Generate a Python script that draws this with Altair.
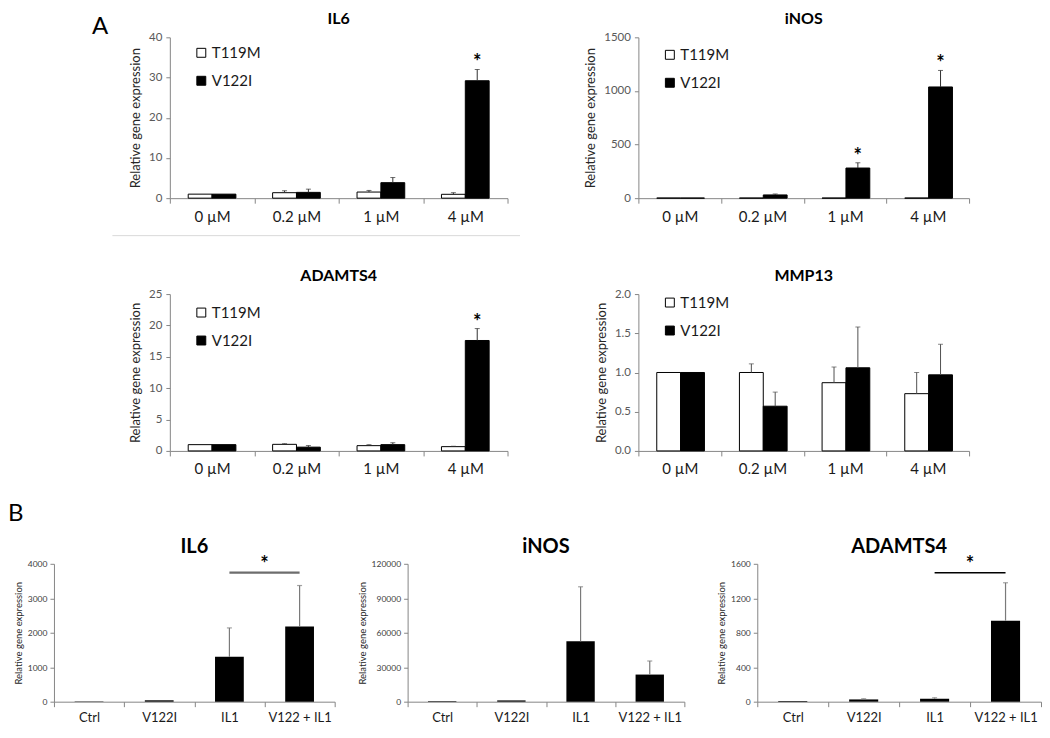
import altair as alt
import pandas as pd

FONT = "Lato"
AXIS = "#868686"
ERR_A = "#303030"
ERR_B = "#7a7a7a"

doses = ["0 µM", "0.2 µM", "1 µM", "4 µM"]
series = ["T119M", "V122I"]
conds = ["Ctrl", "V122I", "IL1", "V122 + IL1"]
panel_labels = ["A", "B"]

# ---------------- Panel A ----------------
il6_t = [1.0, 1.36, 1.52, 0.96]
il6_t_err = [0.0, 0.48, 0.40, 0.40]
il6_v = [1.0, 1.44, 3.85, 29.2]
il6_v_err = [0.0, 0.80, 1.28, 2.8]
il6_stars = ["4 µM"]

inos_t = [1.0, 1.0, 1.0, 1.0]
inos_t_err = [0.0, 0.0, 0.0, 0.0]
inos_v = [1.0, 30.0, 281.0, 1037.0]
inos_v_err = [0.0, 9.0, 49.0, 154.0]
inos_stars = ["1 µM", "4 µM"]

adamts4_t = [1.0, 1.05, 0.84, 0.68]
adamts4_t_err = [0.0, 0.10, 0.15, 0.06]
adamts4_v = [1.0, 0.60, 1.0, 17.6]
adamts4_v_err = [0.0, 0.25, 0.30, 1.9]
adamts4_stars = ["4 µM"]

mmp13_t = [1.0, 1.0, 0.87, 0.73]
mmp13_t_err = [0.0, 0.11, 0.20, 0.27]
mmp13_v = [1.0, 0.57, 1.06, 0.97]
mmp13_v_err = [0.0, 0.18, 0.52, 0.39]
mmp13_stars = []

# ---------------- Panel B ----------------
il6b_vals = [10.0, 40.0, 1300.0, 2180.0]
il6b_err = [0.0, 0.0, 840.0, 1190.0]
il6b_sig = 3745.0

inosb_vals = [500.0, 1100.0, 52500.0, 23600.0]
inosb_err = [0.0, 0.0, 47500.0, 11800.0]

adamts4b_vals = [8.0, 26.0, 34.0, 940.0]
adamts4b_err = [0.0, 8.0, 11.0, 440.0]
adamts4b_sig = 1495.0


def spacer(w, h, letter="", lx=0, ly=0):
    """Empty layout cell; optionally carries a panel letter."""
    return alt.Chart(pd.DataFrame({"label": [letter]})).mark_text(
        fontSize=24, color="black", align="left", baseline="top", font=FONT
    ).encode(x=alt.value(lx), y=alt.value(ly), text="label:N").properties(
        width=w, height=h)


def panel_a(name, t, te, v, ve, stars, ydom, yvals, yfmt, legend_y, w, h,
            err_color, separator=False):
    rows = []
    for i, d in enumerate(doses):
        rows.append(dict(dose=d, series="T119M", value=t[i], err=te[i]))
        rows.append(dict(dose=d, series="V122I", value=v[i], err=ve[i]))
    df = pd.DataFrame(rows)
    df["top"] = df["value"] + df["err"]

    x = alt.X("dose:N", sort=doses,
              scale=alt.Scale(domain=doses, paddingInner=0, paddingOuter=0),
              axis=alt.Axis(title=None, labelAngle=0, tickBand="extent",
                            domainColor=AXIS, tickColor=AXIS, tickSize=5,
                            labelFontSize=15, labelColor="#1a1a1a",
                            labelPadding=6, orient="bottom"))
    xo = alt.XOffset("series:N", sort=series,
                     scale=alt.Scale(domain=series, paddingInner=0, paddingOuter=0.77))
    yscale = alt.Scale(domain=ydom, nice=False, zero=True)
    yaxis = alt.Axis(values=yvals, format=yfmt, grid=False,
                     title="Relative gene expression", titleFontSize=13,
                     titleFontWeight="normal", titleColor="#262626",
                     titlePadding=6, labelFontSize=11.5, labelColor="#595959",
                     labelPadding=4, tickSize=4, domainColor=AXIS,
                     tickColor=AXIS)

    def Y(f):
        return alt.Y(f, type="quantitative", scale=yscale, axis=yaxis)

    base = alt.Chart(df)
    bars = base.mark_bar(stroke="black", strokeWidth=1).encode(
        x=x, xOffset=xo, y=Y("value"),
        color=alt.Color("series:N", sort=series,
                        scale=alt.Scale(domain=series, range=["white", "black"]),
                        legend=alt.Legend(orient="none", legendX=24, legendY=legend_y,
                                          title=None, symbolType="square",
                                          symbolSize=80, symbolStrokeColor="black",
                                          symbolStrokeWidth=1, labelFontSize=15,
                                          labelColor="#1a1a1a", rowPadding=12,
                                          labelOffset=3)))
    ebase = base.transform_filter("datum.err > 0")
    rule = ebase.mark_rule(color=err_color, strokeWidth=1).encode(
        x=x, xOffset=xo, y=Y("value"), y2="top:Q")
    cap = ebase.mark_tick(color=err_color, thickness=1, size=5,
                          orient="horizontal").encode(x=x, xOffset=xo, y=Y("top"))
    layers = [bars, rule, cap]
    sdf = df[(df["series"] == "V122I") & (df["dose"].isin(stars))]
    if len(sdf):
        star = alt.Chart(sdf).mark_text(text="*", fontSize=20, fontWeight="bold",
                                        color="black", baseline="middle", dy=-6).encode(
            x=x, xOffset=xo, y=Y("top"))
        layers.append(star)
    ch = alt.layer(*layers)
    if separator:
        sep = base.mark_point(opacity=0).encode(
            x=alt.X("dose:N", sort=doses,
                    scale=alt.Scale(domain=doses, range=[-58, 350]),
                    axis=alt.Axis(title=None, labels=False, ticks=False,
                                  domainColor="#d9d9d9", domainWidth=1,
                                  orient="bottom", offset=37)),
            y=Y("value"))
        ch = alt.layer(ch, sep).resolve_scale(x="independent")
    return ch.properties(
        width=w, height=h,
        title=alt.TitleParams(name, fontSize=16, fontWeight="bold", color="black",
                              offset=4))


def panel_b(name, vals, errs, ydom, yvals, sig=None, sig_color="black", sig_width=1.5,
            w=280, h=138, title_offset=-2):
    df = pd.DataFrame(dict(cond=conds, value=vals, err=errs))
    df["top"] = df["value"] + df["err"]
    xscale = alt.Scale(domain=conds, paddingInner=0, paddingOuter=0)
    xaxis = alt.Axis(title=None, labelAngle=0, tickBand="extent",
                     domainColor=AXIS, tickColor=AXIS, tickSize=5,
                     labelFontSize=13, labelColor="#1a1a1a", labelPadding=5)
    x = alt.X("cond:N", sort=conds, scale=xscale, axis=xaxis)
    yscale = alt.Scale(domain=ydom, nice=False, zero=True)
    yaxis = alt.Axis(values=yvals, format="d", grid=False,
                     title="Relative gene expression", titleFontSize=9.5,
                     titleFontWeight="normal", titleColor="#262626",
                     titlePadding=4, labelFontSize=8.5, labelColor="#404040",
                     labelPadding=3, tickSize=4, domainColor=AXIS,
                     tickColor=AXIS)

    def Y(f):
        return alt.Y(f, type="quantitative", scale=yscale, axis=yaxis)

    base = alt.Chart(df)
    bars = base.mark_bar(color="black", width=alt.RelativeBandSize(0.41)).encode(
        x=x, y=Y("value"))
    ebase = base.transform_filter("datum.err > 0")
    rule = ebase.mark_rule(color=ERR_B, strokeWidth=1.2).encode(
        x=x, y=Y("value"), y2="top:Q")
    cap = ebase.mark_tick(color=ERR_B, thickness=1.2, size=5,
                          orient="horizontal").encode(x=x, y=Y("top"))
    layers = [bars, rule, cap]
    if sig is not None:
        sdf = pd.DataFrame(dict(a=["IL1"], b=["V122 + IL1"], y=[sig]))
        line = alt.Chart(sdf).mark_rule(color=sig_color, strokeWidth=sig_width).encode(
            x=alt.X("a:N", sort=conds, scale=xscale, axis=xaxis, bandPosition=0.5),
            x2=alt.X2("b:N", bandPosition=0.5),
            y=Y("y"))
        star = alt.Chart(sdf).mark_text(text="*", fontSize=20, fontWeight="bold",
                                        color="black", baseline="middle", dy=-8).encode(
            x=alt.X("a:N", sort=conds, scale=xscale, axis=xaxis, bandPosition=1),
            y=Y("y"))
        layers += [line, star]
    return alt.layer(*layers).properties(
        width=w, height=h,
        title=alt.TitleParams(name, fontSize=20, fontWeight="bold", color="black",
                              offset=title_offset))


il6a = panel_a("IL6", il6_t, il6_t_err, il6_v, il6_v_err, il6_stars,
               [0, 40], [0, 10, 20, 30, 40], "d", 8, 338, 161, ERR_A, separator=True)
inosa = panel_a("iNOS", inos_t, inos_t_err, inos_v, inos_v_err, inos_stars,
                [0, 1500], [0, 500, 1000, 1500], "d", 10, 331, 161, ERR_A)
adamtsa = panel_a("ADAMTS4", adamts4_t, adamts4_t_err, adamts4_v, adamts4_v_err,
                  adamts4_stars, [0, 25], [0, 5, 10, 15, 20, 25], "d", 11, 338, 157, ERR_A)
mmpa = panel_a("MMP13", mmp13_t, mmp13_t_err, mmp13_v, mmp13_v_err, mmp13_stars,
               [0, 2], [0, 0.5, 1.0, 1.5, 2.0], ".1f", 1, 331, 157, "#505050")

il6b = panel_b("IL6", il6b_vals, il6b_err, [0, 4000], [0, 1000, 2000, 3000, 4000],
               sig=il6b_sig, sig_color="#6d6d6d", sig_width=2.2, w=281)
inosb = panel_b("iNOS", inosb_vals, inosb_err, [0, 120000],
                [0, 30000, 60000, 90000, 120000], w=277, title_offset=3)
adamtsb = panel_b("ADAMTS4", adamts4b_vals, adamts4b_err, [0, 1600],
                  [0, 400, 800, 1200, 1600], sig=adamts4b_sig, sig_color="black",
                  sig_width=1.5, w=284)

row12 = alt.ConcatChart(
    concat=[spacer(162, 1, panel_labels[0], 84, -22), il6a, spacer(131, 1), inosa,
            spacer(162, 1), adamtsa, spacer(131, 1), mmpa],
    columns=4, spacing={"row": 96, "column": 0}, bounds="flush", align="each",
).resolve_scale(color="independent")

row3 = alt.HConcatChart(
    hconcat=[spacer(46, 1, panel_labels[1], 0, -62), il6b, spacer(73, 1), inosb,
             spacer(73, 1), adamtsb],
    spacing=0, bounds="flush",
)

chart = alt.VConcatChart(vconcat=[row12, row3], spacing=25).resolve_scale(
    color="independent").properties(
    padding={"top": 3, "left": 0, "right": 0, "bottom": 0},
    background="white").configure_view(
    stroke=None).configure_axis(labelFont=FONT, titleFont=FONT).configure_legend(
    labelFont=FONT).configure_title(font=FONT).configure_text(font=FONT)

chart.save("out.html", embed_options={"renderer": "svg", "actions": False})
